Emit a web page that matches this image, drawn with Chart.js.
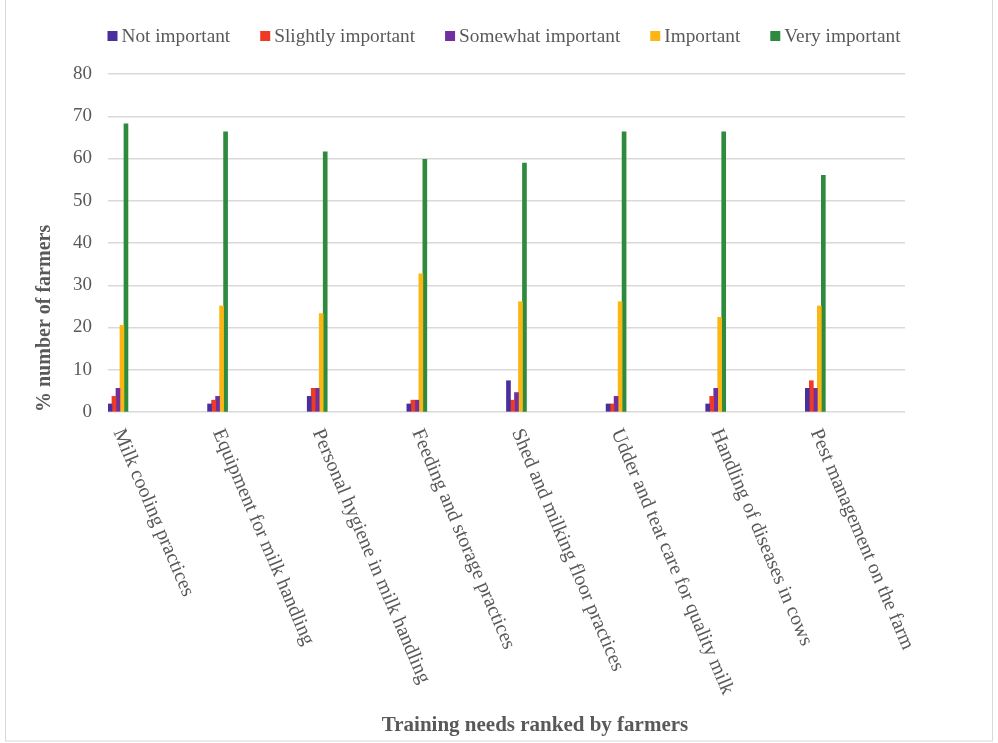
<!DOCTYPE html>
<html>
<head>
<meta charset="utf-8">
<script src="https://cdn.jsdelivr.net/npm/chart.js@4.4.1/dist/chart.umd.min.js"></script>
<style>
  html, body { margin: 0; padding: 0; background: #ffffff; }
  #wrap { width: 998px; height: 743px; position: relative; }
</style>
</head>
<body>
<div id="wrap"><canvas id="chart" width="998" height="743"></canvas></div>
<script>
// Training needs (categories) and share of farmers (%) per importance rating
const categories = [
  "Milk cooling practices",
  "Equipment for milk handling",
  "Personal hygiene in milk handling",
  "Feeding and storage practices",
  "Shed and milking floor practices",
  "Udder and teat care for quality milk",
  "Handling of diseases in cows",
  "Pest management on the farm"
];
const seriesNames = ["Not important", "Slightly important", "Somewhat important", "Important", "Very important"];
const notImportant      = [1.9, 1.9, 3.7, 1.9, 7.4, 1.9, 1.9, 5.6];
const slightlyImportant = [3.7, 2.8, 5.6, 2.8, 2.8, 1.9, 3.7, 7.4];
const somewhatImportant = [5.6, 3.7, 5.6, 2.8, 4.6, 3.7, 5.6, 5.6];
const important         = [20.5, 25.1, 23.3, 32.7, 26.1, 26.1, 22.4, 25.1];
const veryImportant     = [68.2, 66.3, 61.6, 59.8, 58.9, 66.3, 66.3, 56.0];
const yTicks = [0, 10, 20, 30, 40, 50, 60, 70, 80];

const colors = ["#4a2f9c", "#ee3b24", "#7030a0", "#fbb614", "#2e8a3c"];
const seriesValues = [notImportant, slightlyImportant, somewhatImportant, important, veryImportant];

const TEXT = "#595959";
const SERIF = "'Liberation Serif', 'Times New Roman', serif";

const datasets = seriesNames.map((name, s) => ({
  label: name,
  data: seriesValues[s].map((v, i) => ({ x: i, y: v })),
  backgroundColor: colors[s],
  borderWidth: 0,
  barThickness: 4
}));

// Frame, legend row, slanted category labels and the x-axis title
const decorations = {
  id: "decorations",
  beforeDraw(chart) {
    const ctx = chart.ctx;
    ctx.save();
    ctx.fillStyle = "#ffffff";
    ctx.fillRect(0, 0, chart.width, chart.height);
    ctx.strokeStyle = "#d9d9d9";
    ctx.lineWidth = 1;
    ctx.strokeRect(5.5, -2, 987, 743);
    ctx.restore();
  },
  afterDraw(chart) {
    const ctx = chart.ctx;
    const xs = chart.scales.x;
    const area = chart.chartArea;
    ctx.save();

    // legend
    ctx.font = "19.3px " + SERIF;
    ctx.textBaseline = "middle";
    ctx.textAlign = "left";
    let lx = 107.5;
    const ly = 36;
    chart.data.datasets.forEach(ds => {
      ctx.fillStyle = ds.backgroundColor;
      ctx.fillRect(lx, ly - 5, 10, 10);
      ctx.fillStyle = TEXT;
      ctx.fillText(ds.label, lx + 14, ly + 1);
      lx += 14 + ctx.measureText(ds.label).width + 30;
    });

    // category labels
    ctx.font = "20px " + SERIF;
    ctx.fillStyle = TEXT;
    const ang = 67 * Math.PI / 180;
    categories.forEach((label, i) => {
      const px = xs.getPixelForValue(i);
      ctx.save();
      ctx.translate(px, area.bottom + 18);
      ctx.rotate(ang);
      ctx.textAlign = "left";
      ctx.textBaseline = "middle";
      ctx.fillText(label, 0, 0);
      ctx.restore();
    });

    // x-axis title
    ctx.font = "bold 21px " + SERIF;
    ctx.textAlign = "center";
    ctx.textBaseline = "middle";
    ctx.fillStyle = TEXT;
    ctx.fillText("Training needs ranked by farmers", 535, 726);
    ctx.restore();
  }
};

new Chart(document.getElementById("chart"), {
  type: "bar",
  data: { datasets },
  options: {
    responsive: false,
    animation: false,
    layout: { padding: { top: 74, right: 93, bottom: 331, left: 0 } },
    plugins: {
      legend: { display: false },
      tooltip: { enabled: false }
    },
    scales: {
      x: {
        type: "linear",
        display: false,
        offset: false,
        min: -0.1,
        max: categories.length - 0.1
      },
      y: {
        min: 0,
        max: 80,
        afterFit(scale) { scale.width = 108; },
        afterBuildTicks(scale) { scale.ticks = yTicks.map(v => ({ value: v })); },
        border: { display: false },
        grid: { color: "#d9d9d9", lineWidth: 1.4, drawTicks: false },
        ticks: {
          padding: 16,
          color: TEXT,
          font: { family: SERIF, size: 19 }
        },
        title: {
          display: true,
          text: "% number of farmers",
          align: "start",
          color: TEXT,
          font: { family: SERIF, size: 20, weight: "bold" },
          padding: { top: 33, bottom: 0 }
        }
      }
    }
  },
  plugins: [decorations]
});
</script>
</body>
</html>
